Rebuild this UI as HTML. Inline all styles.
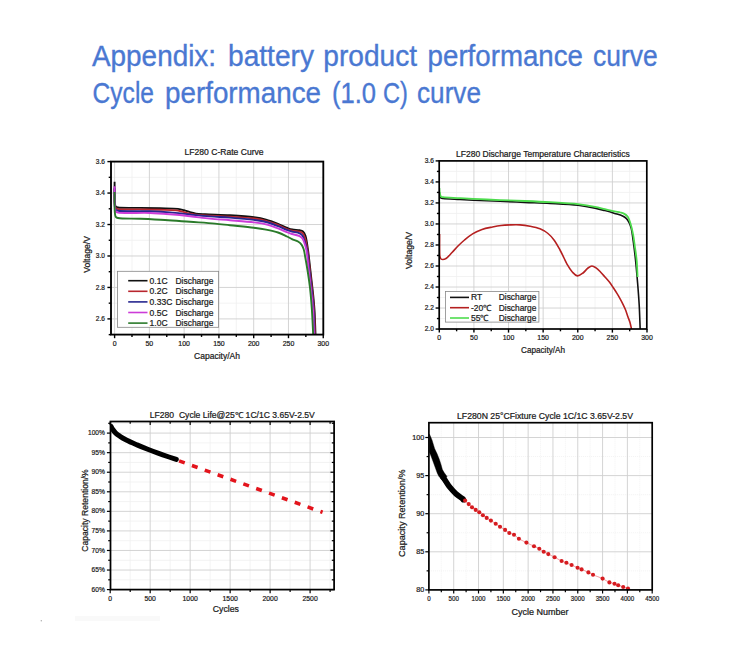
<!DOCTYPE html>
<html><head><meta charset="utf-8"><title>Battery performance curves</title>
<style>
html,body{margin:0;padding:0;background:#fff;}
body{width:750px;height:648px;position:relative;overflow:hidden;font-family:"Liberation Sans", sans-serif;}
</style></head><body>
<svg width="750" height="648" viewBox="0 0 750 648" style="position:absolute;left:0;top:0" font-family='"Liberation Sans", sans-serif'>
<text x="92" y="66.4" font-size="28.8" fill="#4a78d2" stroke="#4a78d2" stroke-width="0.35" textLength="124.04" lengthAdjust="spacingAndGlyphs">Appendix:</text>
<text x="228" y="66.4" font-size="28.8" fill="#4a78d2" stroke="#4a78d2" stroke-width="0.35" textLength="86" lengthAdjust="spacingAndGlyphs">battery</text>
<text x="323.3" y="66.4" font-size="28.8" fill="#4a78d2" stroke="#4a78d2" stroke-width="0.35" textLength="93.69" lengthAdjust="spacingAndGlyphs">product</text>
<text x="427.6" y="66.4" font-size="28.8" fill="#4a78d2" stroke="#4a78d2" stroke-width="0.35" textLength="155.39" lengthAdjust="spacingAndGlyphs">performance</text>
<text x="593" y="66.4" font-size="28.8" fill="#4a78d2" stroke="#4a78d2" stroke-width="0.35" textLength="64.57" lengthAdjust="spacingAndGlyphs">curve</text>
<text x="92.6" y="103.3" font-size="28.8" fill="#4a78d2" stroke="#4a78d2" stroke-width="0.35" textLength="61.41" lengthAdjust="spacingAndGlyphs">Cycle</text>
<text x="165" y="103.3" font-size="28.8" fill="#4a78d2" stroke="#4a78d2" stroke-width="0.35" textLength="155.99" lengthAdjust="spacingAndGlyphs">performance</text>
<text x="332" y="103.3" font-size="28.8" fill="#4a78d2" stroke="#4a78d2" stroke-width="0.35" textLength="44.04" lengthAdjust="spacingAndGlyphs">(1.0</text>
<text x="383.06" y="103.3" font-size="28.8" fill="#4a78d2" stroke="#4a78d2" stroke-width="0.35" textLength="24.92" lengthAdjust="spacingAndGlyphs">C)</text>
<text x="417" y="103.3" font-size="28.8" fill="#4a78d2" stroke="#4a78d2" stroke-width="0.35" textLength="63.97" lengthAdjust="spacingAndGlyphs">curve</text>
<line x1="131.99" y1="161.6" x2="131.99" y2="334.6" stroke="#f0f0f0" stroke-width="0.8"/>
<line x1="166.76" y1="161.6" x2="166.76" y2="334.6" stroke="#f0f0f0" stroke-width="0.8"/>
<line x1="201.54" y1="161.6" x2="201.54" y2="334.6" stroke="#f0f0f0" stroke-width="0.8"/>
<line x1="236.31" y1="161.6" x2="236.31" y2="334.6" stroke="#f0f0f0" stroke-width="0.8"/>
<line x1="271.09" y1="161.6" x2="271.09" y2="334.6" stroke="#f0f0f0" stroke-width="0.8"/>
<line x1="305.86" y1="161.6" x2="305.86" y2="334.6" stroke="#f0f0f0" stroke-width="0.8"/>
<line x1="111" y1="303.17" x2="323.3" y2="303.17" stroke="#f0f0f0" stroke-width="0.8"/>
<line x1="111" y1="271.71" x2="323.3" y2="271.71" stroke="#f0f0f0" stroke-width="0.8"/>
<line x1="111" y1="240.25" x2="323.3" y2="240.25" stroke="#f0f0f0" stroke-width="0.8"/>
<line x1="111" y1="208.79" x2="323.3" y2="208.79" stroke="#f0f0f0" stroke-width="0.8"/>
<line x1="111" y1="177.33" x2="323.3" y2="177.33" stroke="#f0f0f0" stroke-width="0.8"/>
<line x1="114.6" y1="161.6" x2="114.6" y2="334.6" stroke="#cfcfcf" stroke-width="0.9"/>
<line x1="149.38" y1="161.6" x2="149.38" y2="334.6" stroke="#cfcfcf" stroke-width="0.9"/>
<line x1="184.15" y1="161.6" x2="184.15" y2="334.6" stroke="#cfcfcf" stroke-width="0.9"/>
<line x1="218.93" y1="161.6" x2="218.93" y2="334.6" stroke="#cfcfcf" stroke-width="0.9"/>
<line x1="253.7" y1="161.6" x2="253.7" y2="334.6" stroke="#cfcfcf" stroke-width="0.9"/>
<line x1="288.48" y1="161.6" x2="288.48" y2="334.6" stroke="#cfcfcf" stroke-width="0.9"/>
<line x1="111" y1="318.9" x2="323.3" y2="318.9" stroke="#cfcfcf" stroke-width="0.9"/>
<line x1="111" y1="287.44" x2="323.3" y2="287.44" stroke="#cfcfcf" stroke-width="0.9"/>
<line x1="111" y1="255.98" x2="323.3" y2="255.98" stroke="#cfcfcf" stroke-width="0.9"/>
<line x1="111" y1="224.52" x2="323.3" y2="224.52" stroke="#cfcfcf" stroke-width="0.9"/>
<line x1="111" y1="193.06" x2="323.3" y2="193.06" stroke="#cfcfcf" stroke-width="0.9"/>
<rect x="117.4" y="271.3" width="101.2" height="56" fill="#fff" stroke="#888" stroke-width="0.8"/>
<line x1="128.2" y1="280.7" x2="147.5" y2="280.7" stroke="#111" stroke-width="1.6"/>
<text x="149.6" y="283.7" font-size="8.5" text-anchor="start" fill="#1a1a1a" stroke="#1a1a1a" stroke-width="0.22">0.1C</text>
<text x="175.5" y="283.7" font-size="8.5" text-anchor="start" fill="#1a1a1a" stroke="#1a1a1a" stroke-width="0.22" textLength="38" lengthAdjust="spacingAndGlyphs">Discharge</text>
<line x1="128.2" y1="291.3" x2="147.5" y2="291.3" stroke="#b8262e" stroke-width="1.6"/>
<text x="149.6" y="294.3" font-size="8.5" text-anchor="start" fill="#1a1a1a" stroke="#1a1a1a" stroke-width="0.22">0.2C</text>
<text x="175.5" y="294.3" font-size="8.5" text-anchor="start" fill="#1a1a1a" stroke="#1a1a1a" stroke-width="0.22" textLength="38" lengthAdjust="spacingAndGlyphs">Discharge</text>
<line x1="128.2" y1="301.9" x2="147.5" y2="301.9" stroke="#26268f" stroke-width="1.6"/>
<text x="149.6" y="304.9" font-size="8.5" text-anchor="start" fill="#1a1a1a" stroke="#1a1a1a" stroke-width="0.22">0.33C</text>
<text x="175.5" y="304.9" font-size="8.5" text-anchor="start" fill="#1a1a1a" stroke="#1a1a1a" stroke-width="0.22" textLength="38" lengthAdjust="spacingAndGlyphs">Discharge</text>
<line x1="128.2" y1="312.5" x2="147.5" y2="312.5" stroke="#cc3cd8" stroke-width="1.6"/>
<text x="149.6" y="315.5" font-size="8.5" text-anchor="start" fill="#1a1a1a" stroke="#1a1a1a" stroke-width="0.22">0.5C</text>
<text x="175.5" y="315.5" font-size="8.5" text-anchor="start" fill="#1a1a1a" stroke="#1a1a1a" stroke-width="0.22" textLength="38" lengthAdjust="spacingAndGlyphs">Discharge</text>
<line x1="128.2" y1="323.1" x2="147.5" y2="323.1" stroke="#2a7a2a" stroke-width="1.6"/>
<text x="149.6" y="326.1" font-size="8.5" text-anchor="start" fill="#1a1a1a" stroke="#1a1a1a" stroke-width="0.22">1.0C</text>
<text x="175.5" y="326.1" font-size="8.5" text-anchor="start" fill="#1a1a1a" stroke="#1a1a1a" stroke-width="0.22" textLength="38" lengthAdjust="spacingAndGlyphs">Discharge</text>
<g fill="none" stroke-width="1.9" stroke-linejoin="round">
<clipPath id="cp1"><rect x="111" y="161.6" width="212.3" height="173"/></clipPath>
<g clip-path="url(#cp1)">
<path d="M114.6,181.8 C114.6,186.53 114.52,192.02 114.6,196 C114.66,198.9 114.58,201.56 114.9,203.5 C115.11,204.77 115.2,205.93 115.8,206.6 C116.31,207.17 116.85,207.26 118,207.5 C121.49,208.22 132.84,207.76 140,207.9 C146.83,208.03 153.51,208.13 160,208.3 C166.16,208.46 173.63,208.36 178,208.9 C180.55,209.22 182.01,209.66 184,210.2 C186.02,210.75 187.99,211.63 190,212.2 C191.99,212.76 193.78,213.26 196,213.6 C198.68,214.01 201.25,214.08 205,214.3 C211.25,214.67 221.76,214.79 230,215.3 C238.09,215.8 247.39,216.39 254,217.3 C258.71,217.95 262.04,218.53 266,219.6 C270.04,220.69 274.25,222.33 278,223.8 C281.41,225.14 284.93,227 287.6,228 C289.45,228.69 290.62,229.13 292.4,229.5 C294.54,229.95 297.67,229.86 299.6,230.3 C300.96,230.61 302.07,230.74 303,231.5 C304.06,232.37 304.71,233.67 305.4,235.5 C306.62,238.76 307.27,245.11 308,250 C308.74,254.95 309.22,260 309.8,265 C310.38,270 310.93,275 311.5,280 C312.07,285 312.7,290 313.2,295 C313.7,300 314.14,304.41 314.5,310 C314.95,317.06 315.17,326 315.5,334" stroke="#111"/>
<path d="M114.6,189 C114.6,192.33 114.53,196.09 114.6,199 C114.66,201.25 114.63,203.32 114.9,205 C115.1,206.25 115.19,207.52 115.8,208.2 C116.31,208.78 116.85,208.87 118,209.1 C121.49,209.81 132.84,209.28 140,209.4 C146.83,209.51 153.71,209.62 160,209.8 C165.63,209.96 171.96,209.92 176,210.4 C178.5,210.69 179.86,211.11 182,211.6 C184.48,212.17 187.32,213.13 190,213.7 C192.65,214.26 195.05,214.69 198,215 C201.59,215.38 205.49,215.37 210,215.6 C215.82,215.89 223.03,216.15 230,216.6 C237.64,217.09 247.39,217.61 254,218.5 C258.71,219.14 262.04,219.73 266,220.8 C270.04,221.89 274.26,223.49 278,225 C281.41,226.38 284.92,228.4 287.6,229.4 C289.45,230.09 290.62,230.44 292.4,230.8 C294.54,231.23 297.76,231.03 299.6,231.6 C300.86,231.99 301.76,232.34 302.6,233.2 C303.65,234.28 304.3,235.98 305,238 C306.06,241.05 306.81,245.76 307.5,250 C308.27,254.71 308.72,260 309.3,265 C309.88,270 310.43,275 311,280 C311.57,285 312.2,290 312.7,295 C313.2,300 313.64,304.41 314,310 C314.45,317.06 314.67,326 315,334" stroke="#b8262e"/>
<path d="M114.6,188 C114.6,192 114.52,196.61 114.6,200 C114.66,202.5 114.62,204.71 114.9,206.5 C115.1,207.8 115.18,209.1 115.8,209.8 C116.31,210.38 116.8,210.45 118,210.7 C122.4,211.61 140.58,210.95 150,211.3 C157.45,211.57 163.34,211.87 170,212.4 C176.67,212.93 183.33,213.83 190,214.5 C196.67,215.17 203.33,215.88 210,216.4 C216.66,216.92 223.03,217.06 230,217.6 C237.64,218.2 247.39,219.01 254,219.9 C258.7,220.54 262.04,220.97 266,222 C270.04,223.05 274.24,224.76 278,226.2 C281.4,227.5 285,229.25 287.6,230.2 C289.33,230.84 290.32,231.15 292,231.6 C294.18,232.19 297.75,232.42 299.6,233.3 C300.85,233.89 301.63,234.47 302.4,235.5 C303.4,236.83 303.91,238.92 304.6,241 C305.47,243.61 306.34,246.59 307,250 C307.83,254.34 308.22,260 308.8,265 C309.38,270 309.93,275 310.5,280 C311.07,285 311.7,290 312.2,295 C312.7,300 313.14,304.41 313.5,310 C313.95,317.06 314.17,326 314.5,334" stroke="#26268f"/>
<path d="M114.6,186.3 C114.6,191.2 114.51,197.03 114.6,201 C114.66,203.7 114.63,205.87 114.9,207.8 C115.1,209.26 115.15,210.81 115.8,211.6 C116.31,212.23 116.79,212.33 118,212.6 C122.39,213.58 140.59,212.64 150,213 C157.45,213.29 163.34,213.77 170,214.3 C176.67,214.83 183.34,215.48 190,216.2 C196.67,216.92 203.33,217.93 210,218.6 C216.66,219.27 223.03,219.6 230,220.2 C237.64,220.86 247.38,221.57 254,222.4 C258.7,222.99 262.04,223.32 266,224.3 C270.04,225.3 274.24,226.98 278,228.4 C281.4,229.69 285.01,231.39 287.6,232.4 C289.34,233.08 290.32,233.45 292,234 C294.18,234.71 297.75,235.25 299.6,236.2 C300.84,236.84 301.64,237.41 302.4,238.4 C303.31,239.57 303.78,241.28 304.4,243 C305.14,245.07 305.84,247.2 306.4,250 C307.21,254.03 307.62,260 308.2,265 C308.78,270 309.33,275 309.9,280 C310.47,285 311.08,290 311.6,295 C312.12,300 312.62,304.41 313,310 C313.48,317.06 313.67,326 314,334" stroke="#cc3cd8"/>
<path d="M114.6,192 C114.6,196.67 114.52,202.13 114.6,206 C114.66,208.73 114.63,211.03 114.9,213 C115.1,214.47 115.16,215.96 115.8,216.8 C116.31,217.47 116.83,217.68 118,218 C121.48,218.95 132.43,218.48 140,218.8 C148.07,219.14 156.67,219.5 165,220 C173.34,220.5 181.67,221.2 190,221.8 C198.33,222.4 207.73,222.95 215,223.6 C220.64,224.1 224.41,224.61 230,225.2 C237.06,225.94 247.38,226.83 254,227.7 C258.7,228.32 262.02,228.8 266,229.6 C270.02,230.4 274.34,231.26 278,232.5 C281.27,233.61 284.45,235.27 287,236.5 C288.93,237.43 290.24,238.29 292,239.1 C293.89,239.97 296.34,240.48 298,241.5 C299.41,242.37 300.57,243.37 301.5,244.6 C302.45,245.86 303.01,247.23 303.6,249 C304.41,251.43 304.78,254.67 305.4,258 C306.17,262.15 307.05,267.17 307.8,272 C308.6,277.15 309.36,282.23 310,288 C310.75,294.74 311.38,302.43 311.9,310 C312.46,318.06 312.77,326.67 313.2,335" stroke="#2a7a2a"/>
</g></g>
<rect x="111" y="161.6" width="212.3" height="173" fill="none" stroke="#000" stroke-width="1.85"/>
<line x1="114.6" y1="334.6" x2="114.6" y2="338.2" stroke="#000" stroke-width="1.4"/>
<line x1="131.99" y1="334.6" x2="131.99" y2="336.9" stroke="#000" stroke-width="1.4"/>
<line x1="149.38" y1="334.6" x2="149.38" y2="338.2" stroke="#000" stroke-width="1.4"/>
<line x1="166.76" y1="334.6" x2="166.76" y2="336.9" stroke="#000" stroke-width="1.4"/>
<line x1="184.15" y1="334.6" x2="184.15" y2="338.2" stroke="#000" stroke-width="1.4"/>
<line x1="201.54" y1="334.6" x2="201.54" y2="336.9" stroke="#000" stroke-width="1.4"/>
<line x1="218.93" y1="334.6" x2="218.93" y2="338.2" stroke="#000" stroke-width="1.4"/>
<line x1="236.31" y1="334.6" x2="236.31" y2="336.9" stroke="#000" stroke-width="1.4"/>
<line x1="253.7" y1="334.6" x2="253.7" y2="338.2" stroke="#000" stroke-width="1.4"/>
<line x1="271.09" y1="334.6" x2="271.09" y2="336.9" stroke="#000" stroke-width="1.4"/>
<line x1="288.48" y1="334.6" x2="288.48" y2="338.2" stroke="#000" stroke-width="1.4"/>
<line x1="305.86" y1="334.6" x2="305.86" y2="336.9" stroke="#000" stroke-width="1.4"/>
<line x1="323.25" y1="334.6" x2="323.25" y2="338.2" stroke="#000" stroke-width="1.4"/>
<line x1="108.7" y1="334.63" x2="111" y2="334.63" stroke="#000" stroke-width="1.4"/>
<line x1="107.4" y1="318.9" x2="111" y2="318.9" stroke="#000" stroke-width="1.4"/>
<line x1="108.7" y1="303.17" x2="111" y2="303.17" stroke="#000" stroke-width="1.4"/>
<line x1="107.4" y1="287.44" x2="111" y2="287.44" stroke="#000" stroke-width="1.4"/>
<line x1="108.7" y1="271.71" x2="111" y2="271.71" stroke="#000" stroke-width="1.4"/>
<line x1="107.4" y1="255.98" x2="111" y2="255.98" stroke="#000" stroke-width="1.4"/>
<line x1="108.7" y1="240.25" x2="111" y2="240.25" stroke="#000" stroke-width="1.4"/>
<line x1="107.4" y1="224.52" x2="111" y2="224.52" stroke="#000" stroke-width="1.4"/>
<line x1="108.7" y1="208.79" x2="111" y2="208.79" stroke="#000" stroke-width="1.4"/>
<line x1="107.4" y1="193.06" x2="111" y2="193.06" stroke="#000" stroke-width="1.4"/>
<line x1="108.7" y1="177.33" x2="111" y2="177.33" stroke="#000" stroke-width="1.4"/>
<line x1="107.4" y1="161.6" x2="111" y2="161.6" stroke="#000" stroke-width="1.4"/>
<text x="114.6" y="345.6" font-size="7.3" text-anchor="middle" fill="#1a1a1a" stroke="#1a1a1a" stroke-width="0.22" textLength="3.87" lengthAdjust="spacingAndGlyphs">0</text>
<text x="149.38" y="345.6" font-size="7.3" text-anchor="middle" fill="#1a1a1a" stroke="#1a1a1a" stroke-width="0.22" textLength="7.74" lengthAdjust="spacingAndGlyphs">50</text>
<text x="184.15" y="345.6" font-size="7.3" text-anchor="middle" fill="#1a1a1a" stroke="#1a1a1a" stroke-width="0.22" textLength="11.61" lengthAdjust="spacingAndGlyphs">100</text>
<text x="218.93" y="345.6" font-size="7.3" text-anchor="middle" fill="#1a1a1a" stroke="#1a1a1a" stroke-width="0.22" textLength="11.61" lengthAdjust="spacingAndGlyphs">150</text>
<text x="253.7" y="345.6" font-size="7.3" text-anchor="middle" fill="#1a1a1a" stroke="#1a1a1a" stroke-width="0.22" textLength="11.61" lengthAdjust="spacingAndGlyphs">200</text>
<text x="288.48" y="345.6" font-size="7.3" text-anchor="middle" fill="#1a1a1a" stroke="#1a1a1a" stroke-width="0.22" textLength="11.61" lengthAdjust="spacingAndGlyphs">250</text>
<text x="323.25" y="345.6" font-size="7.3" text-anchor="middle" fill="#1a1a1a" stroke="#1a1a1a" stroke-width="0.22" textLength="11.61" lengthAdjust="spacingAndGlyphs">300</text>
<text x="104.9" y="321" font-size="7.3" text-anchor="end" fill="#1a1a1a" stroke="#1a1a1a" stroke-width="0.22" textLength="9.1" lengthAdjust="spacingAndGlyphs">2.6</text>
<text x="104.9" y="289.54" font-size="7.3" text-anchor="end" fill="#1a1a1a" stroke="#1a1a1a" stroke-width="0.22" textLength="9.1" lengthAdjust="spacingAndGlyphs">2.8</text>
<text x="104.9" y="258.08" font-size="7.3" text-anchor="end" fill="#1a1a1a" stroke="#1a1a1a" stroke-width="0.22" textLength="9.1" lengthAdjust="spacingAndGlyphs">3.0</text>
<text x="104.9" y="226.62" font-size="7.3" text-anchor="end" fill="#1a1a1a" stroke="#1a1a1a" stroke-width="0.22" textLength="9.1" lengthAdjust="spacingAndGlyphs">3.2</text>
<text x="104.9" y="195.16" font-size="7.3" text-anchor="end" fill="#1a1a1a" stroke="#1a1a1a" stroke-width="0.22" textLength="9.1" lengthAdjust="spacingAndGlyphs">3.4</text>
<text x="104.9" y="163.7" font-size="7.3" text-anchor="end" fill="#1a1a1a" stroke="#1a1a1a" stroke-width="0.22" textLength="9.1" lengthAdjust="spacingAndGlyphs">3.6</text>
<text x="217" y="358.9" font-size="8.5" text-anchor="middle" fill="#1a1a1a" stroke="#1a1a1a" stroke-width="0.22" textLength="46" lengthAdjust="spacingAndGlyphs">Capacity/Ah</text>
<text x="0" y="0" font-size="8.5" text-anchor="middle" fill="#1a1a1a" stroke="#1a1a1a" stroke-width="0.22" textLength="36.7" lengthAdjust="spacingAndGlyphs" transform="translate(90.4,254.5) rotate(-90)">Voltage/V</text>
<text x="224.1" y="155.3" font-size="8.2" text-anchor="middle" fill="#1a1a1a" stroke="#1a1a1a" stroke-width="0.22" textLength="79" lengthAdjust="spacingAndGlyphs">LF280 C-Rate Curve</text>
<line x1="456.61" y1="160.9" x2="456.61" y2="329" stroke="#f0f0f0" stroke-width="0.8"/>
<line x1="491.22" y1="160.9" x2="491.22" y2="329" stroke="#f0f0f0" stroke-width="0.8"/>
<line x1="525.84" y1="160.9" x2="525.84" y2="329" stroke="#f0f0f0" stroke-width="0.8"/>
<line x1="560.45" y1="160.9" x2="560.45" y2="329" stroke="#f0f0f0" stroke-width="0.8"/>
<line x1="595.07" y1="160.9" x2="595.07" y2="329" stroke="#f0f0f0" stroke-width="0.8"/>
<line x1="629.68" y1="160.9" x2="629.68" y2="329" stroke="#f0f0f0" stroke-width="0.8"/>
<line x1="439.2" y1="318.55" x2="646.8" y2="318.55" stroke="#f0f0f0" stroke-width="0.8"/>
<line x1="439.2" y1="297.53" x2="646.8" y2="297.53" stroke="#f0f0f0" stroke-width="0.8"/>
<line x1="439.2" y1="276.51" x2="646.8" y2="276.51" stroke="#f0f0f0" stroke-width="0.8"/>
<line x1="439.2" y1="255.49" x2="646.8" y2="255.49" stroke="#f0f0f0" stroke-width="0.8"/>
<line x1="439.2" y1="234.47" x2="646.8" y2="234.47" stroke="#f0f0f0" stroke-width="0.8"/>
<line x1="439.2" y1="213.45" x2="646.8" y2="213.45" stroke="#f0f0f0" stroke-width="0.8"/>
<line x1="439.2" y1="192.43" x2="646.8" y2="192.43" stroke="#f0f0f0" stroke-width="0.8"/>
<line x1="439.2" y1="171.41" x2="646.8" y2="171.41" stroke="#f0f0f0" stroke-width="0.8"/>
<line x1="473.92" y1="160.9" x2="473.92" y2="329" stroke="#cfcfcf" stroke-width="0.9"/>
<line x1="508.53" y1="160.9" x2="508.53" y2="329" stroke="#cfcfcf" stroke-width="0.9"/>
<line x1="543.14" y1="160.9" x2="543.14" y2="329" stroke="#cfcfcf" stroke-width="0.9"/>
<line x1="577.76" y1="160.9" x2="577.76" y2="329" stroke="#cfcfcf" stroke-width="0.9"/>
<line x1="612.38" y1="160.9" x2="612.38" y2="329" stroke="#cfcfcf" stroke-width="0.9"/>
<line x1="439.2" y1="308.04" x2="646.8" y2="308.04" stroke="#cfcfcf" stroke-width="0.9"/>
<line x1="439.2" y1="287.02" x2="646.8" y2="287.02" stroke="#cfcfcf" stroke-width="0.9"/>
<line x1="439.2" y1="266" x2="646.8" y2="266" stroke="#cfcfcf" stroke-width="0.9"/>
<line x1="439.2" y1="244.98" x2="646.8" y2="244.98" stroke="#cfcfcf" stroke-width="0.9"/>
<line x1="439.2" y1="223.96" x2="646.8" y2="223.96" stroke="#cfcfcf" stroke-width="0.9"/>
<line x1="439.2" y1="202.94" x2="646.8" y2="202.94" stroke="#cfcfcf" stroke-width="0.9"/>
<line x1="439.2" y1="181.92" x2="646.8" y2="181.92" stroke="#cfcfcf" stroke-width="0.9"/>
<rect x="445.5" y="291.4" width="93.4" height="30.7" fill="#fff" stroke="#888" stroke-width="0.8"/>
<line x1="450" y1="297.4" x2="469" y2="297.4" stroke="#111" stroke-width="1.6"/>
<text x="471" y="300.4" font-size="8.5" text-anchor="start" fill="#1a1a1a" stroke="#1a1a1a" stroke-width="0.22">RT</text>
<text x="498.8" y="300.4" font-size="8.5" text-anchor="start" fill="#1a1a1a" stroke="#1a1a1a" stroke-width="0.22" textLength="37.6" lengthAdjust="spacingAndGlyphs">Discharge</text>
<line x1="450" y1="307.7" x2="469" y2="307.7" stroke="#b52020" stroke-width="1.6"/>
<text x="471" y="310.7" font-size="8.5" text-anchor="start" fill="#1a1a1a" stroke="#1a1a1a" stroke-width="0.22">-20℃</text>
<text x="498.8" y="310.7" font-size="8.5" text-anchor="start" fill="#1a1a1a" stroke="#1a1a1a" stroke-width="0.22" textLength="37.6" lengthAdjust="spacingAndGlyphs">Discharge</text>
<line x1="450" y1="318" x2="469" y2="318" stroke="#4ddc4d" stroke-width="1.6"/>
<text x="471" y="321" font-size="8.5" text-anchor="start" fill="#1a1a1a" stroke="#1a1a1a" stroke-width="0.22">55℃</text>
<text x="498.8" y="321" font-size="8.5" text-anchor="start" fill="#1a1a1a" stroke="#1a1a1a" stroke-width="0.22" textLength="37.6" lengthAdjust="spacingAndGlyphs">Discharge</text>
<clipPath id="cp2"><rect x="439.2" y="160.9" width="207.6" height="168.1"/></clipPath>
<g clip-path="url(#cp2)" fill="none" stroke-width="1.6" stroke-linejoin="round">
<path d="M439.6,234 C439.6,239.33 439.5,245.85 439.6,250 C439.66,252.65 439.52,254.87 439.9,256.5 C440.15,257.56 440.44,258.51 441,259 C441.47,259.4 442.12,259.51 442.8,259.5 C443.72,259.49 444.86,259.19 446,258.5 C447.81,257.4 450.02,254.56 452,252.5 C454.02,250.4 455.92,248.08 458,246 C460.08,243.92 462.16,241.95 464.5,240 C467,237.91 469.7,235.64 472.6,233.9 C475.53,232.14 478.72,230.65 482,229.5 C485.35,228.33 489.18,227.69 492.5,227 C495.47,226.38 498.08,225.85 501,225.5 C504.07,225.13 507.33,225 510.5,224.9 C513.67,224.8 516.8,224.69 520,224.9 C523.3,225.11 526.69,225.56 530,226.2 C533.35,226.85 536.93,227.53 540,228.8 C542.91,230 545.65,231.6 548,233.5 C550.3,235.35 552.12,237.49 554,240 C556.16,242.88 558.25,246.82 560,250 C561.53,252.78 562.72,255.44 564,258 C565.18,260.36 566.08,262.55 567.4,264.8 C568.82,267.21 570.49,270.07 572.3,272 C573.84,273.64 575.52,275.73 577.3,275.9 C579.09,276.07 581.25,274.27 583,273 C584.84,271.67 586.34,269.21 588,268 C589.31,267.05 590.57,266.04 591.9,266 C593.24,265.96 594.66,266.92 596,267.8 C597.61,268.86 599.2,270.67 600.7,272.2 C602.2,273.73 603.57,275.37 605,277 C606.47,278.67 608.05,280.35 609.4,282.1 C610.71,283.79 611.8,285.5 613,287.3 C614.27,289.19 615.6,291.27 616.8,293.2 C617.93,295.03 618.97,296.76 620,298.6 C621.04,300.46 622.06,302.39 623,304.3 C623.93,306.19 624.8,308 625.6,310 C626.45,312.12 627.14,314.55 627.9,316.7 C628.61,318.71 629.4,320.46 630,322.5 C630.65,324.7 631.07,327.17 631.6,329.5" stroke="#b52020"/>
<path d="M439.4,192 C439.53,193.33 439.44,194.93 439.8,196 C440.07,196.82 440.44,197.59 441,198 C441.53,198.39 442,198.35 443,198.5 C445.88,198.94 454.1,199.18 460,199.5 C466.4,199.85 473.33,200.2 480,200.5 C486.67,200.8 492.96,201 500,201.3 C507.87,201.63 516.67,202.05 525,202.4 C533.33,202.75 541.43,202.95 550,203.4 C559.07,203.87 569.85,204.25 578,205.2 C584.39,205.95 590.1,207.07 595,208.1 C598.79,208.9 601.7,209.71 605,210.6 C608.27,211.48 611.64,212.46 614.7,213.4 C617.48,214.26 620.48,214.97 622.6,216 C624.19,216.77 625.42,217.51 626.5,218.6 C627.59,219.7 628.35,221.14 629.1,222.6 C629.91,224.18 630.52,225.64 631.1,227.8 C632,231.14 632.52,236.08 633.2,240.9 C634.03,246.79 634.88,253.82 635.6,260.6 C636.36,267.82 637,275.56 637.6,283 C638.2,290.36 638.77,297.43 639.2,305 C639.65,313.06 639.87,321.67 640.2,330" stroke="#111"/>
<path d="M439.4,188 C439.53,189.67 439.49,191.49 439.8,193 C440.07,194.32 440.31,195.93 441,196.6 C441.51,197.09 441.99,197.02 443,197.2 C445.88,197.7 454.1,197.78 460,198.1 C466.4,198.45 473.33,198.87 480,199.2 C486.67,199.53 492.96,199.81 500,200.1 C507.87,200.42 516.67,200.65 525,201 C533.33,201.35 541.43,201.69 550,202.2 C559.07,202.74 569.84,203.29 578,204.2 C584.39,204.92 590.1,205.84 595,206.8 C598.79,207.54 601.69,208.43 605,209.2 C608.26,209.96 611.88,210.81 614.7,211.4 C616.88,211.85 618.83,212.07 620.5,212.5 C621.8,212.83 622.78,213 623.9,213.6 C625.22,214.31 626.76,215.3 627.8,216.7 C629.03,218.36 629.61,220.71 630.4,223.2 C631.42,226.4 632.35,230.5 633.1,234.4 C633.9,238.58 634.4,243.13 635,247.5 C635.6,251.86 636.27,255.98 636.7,260.6 C637.17,265.75 637.3,271.53 637.6,277" stroke="#4ddc4d" stroke-width="1.8"/>
</g>
<rect x="439.2" y="160.9" width="207.6" height="168.1" fill="none" stroke="#000" stroke-width="1.7"/>
<line x1="439.3" y1="329" x2="439.3" y2="332.6" stroke="#000" stroke-width="1.4"/>
<line x1="456.61" y1="329" x2="456.61" y2="331.3" stroke="#000" stroke-width="1.4"/>
<line x1="473.92" y1="329" x2="473.92" y2="332.6" stroke="#000" stroke-width="1.4"/>
<line x1="491.22" y1="329" x2="491.22" y2="331.3" stroke="#000" stroke-width="1.4"/>
<line x1="508.53" y1="329" x2="508.53" y2="332.6" stroke="#000" stroke-width="1.4"/>
<line x1="525.84" y1="329" x2="525.84" y2="331.3" stroke="#000" stroke-width="1.4"/>
<line x1="543.14" y1="329" x2="543.14" y2="332.6" stroke="#000" stroke-width="1.4"/>
<line x1="560.45" y1="329" x2="560.45" y2="331.3" stroke="#000" stroke-width="1.4"/>
<line x1="577.76" y1="329" x2="577.76" y2="332.6" stroke="#000" stroke-width="1.4"/>
<line x1="595.07" y1="329" x2="595.07" y2="331.3" stroke="#000" stroke-width="1.4"/>
<line x1="612.38" y1="329" x2="612.38" y2="332.6" stroke="#000" stroke-width="1.4"/>
<line x1="629.68" y1="329" x2="629.68" y2="331.3" stroke="#000" stroke-width="1.4"/>
<line x1="646.99" y1="329" x2="646.99" y2="332.6" stroke="#000" stroke-width="1.4"/>
<line x1="435.6" y1="329.06" x2="439.2" y2="329.06" stroke="#000" stroke-width="1.4"/>
<line x1="436.9" y1="318.55" x2="439.2" y2="318.55" stroke="#000" stroke-width="1.4"/>
<line x1="435.6" y1="308.04" x2="439.2" y2="308.04" stroke="#000" stroke-width="1.4"/>
<line x1="436.9" y1="297.53" x2="439.2" y2="297.53" stroke="#000" stroke-width="1.4"/>
<line x1="435.6" y1="287.02" x2="439.2" y2="287.02" stroke="#000" stroke-width="1.4"/>
<line x1="436.9" y1="276.51" x2="439.2" y2="276.51" stroke="#000" stroke-width="1.4"/>
<line x1="435.6" y1="266" x2="439.2" y2="266" stroke="#000" stroke-width="1.4"/>
<line x1="436.9" y1="255.49" x2="439.2" y2="255.49" stroke="#000" stroke-width="1.4"/>
<line x1="435.6" y1="244.98" x2="439.2" y2="244.98" stroke="#000" stroke-width="1.4"/>
<line x1="436.9" y1="234.47" x2="439.2" y2="234.47" stroke="#000" stroke-width="1.4"/>
<line x1="435.6" y1="223.96" x2="439.2" y2="223.96" stroke="#000" stroke-width="1.4"/>
<line x1="436.9" y1="213.45" x2="439.2" y2="213.45" stroke="#000" stroke-width="1.4"/>
<line x1="435.6" y1="202.94" x2="439.2" y2="202.94" stroke="#000" stroke-width="1.4"/>
<line x1="436.9" y1="192.43" x2="439.2" y2="192.43" stroke="#000" stroke-width="1.4"/>
<line x1="435.6" y1="181.92" x2="439.2" y2="181.92" stroke="#000" stroke-width="1.4"/>
<line x1="436.9" y1="171.41" x2="439.2" y2="171.41" stroke="#000" stroke-width="1.4"/>
<line x1="435.6" y1="160.9" x2="439.2" y2="160.9" stroke="#000" stroke-width="1.4"/>
<text x="439.3" y="340.1" font-size="7.3" text-anchor="middle" fill="#1a1a1a" stroke="#1a1a1a" stroke-width="0.22" textLength="3.87" lengthAdjust="spacingAndGlyphs">0</text>
<text x="473.92" y="340.1" font-size="7.3" text-anchor="middle" fill="#1a1a1a" stroke="#1a1a1a" stroke-width="0.22" textLength="7.74" lengthAdjust="spacingAndGlyphs">50</text>
<text x="508.53" y="340.1" font-size="7.3" text-anchor="middle" fill="#1a1a1a" stroke="#1a1a1a" stroke-width="0.22" textLength="11.61" lengthAdjust="spacingAndGlyphs">100</text>
<text x="543.14" y="340.1" font-size="7.3" text-anchor="middle" fill="#1a1a1a" stroke="#1a1a1a" stroke-width="0.22" textLength="11.61" lengthAdjust="spacingAndGlyphs">150</text>
<text x="577.76" y="340.1" font-size="7.3" text-anchor="middle" fill="#1a1a1a" stroke="#1a1a1a" stroke-width="0.22" textLength="11.61" lengthAdjust="spacingAndGlyphs">200</text>
<text x="612.38" y="340.1" font-size="7.3" text-anchor="middle" fill="#1a1a1a" stroke="#1a1a1a" stroke-width="0.22" textLength="11.61" lengthAdjust="spacingAndGlyphs">250</text>
<text x="646.99" y="340.1" font-size="7.3" text-anchor="middle" fill="#1a1a1a" stroke="#1a1a1a" stroke-width="0.22" textLength="11.61" lengthAdjust="spacingAndGlyphs">300</text>
<text x="433.8" y="331.36" font-size="7.3" text-anchor="end" fill="#1a1a1a" stroke="#1a1a1a" stroke-width="0.22" textLength="9.1" lengthAdjust="spacingAndGlyphs">2.0</text>
<text x="433.8" y="310.34" font-size="7.3" text-anchor="end" fill="#1a1a1a" stroke="#1a1a1a" stroke-width="0.22" textLength="9.1" lengthAdjust="spacingAndGlyphs">2.2</text>
<text x="433.8" y="289.32" font-size="7.3" text-anchor="end" fill="#1a1a1a" stroke="#1a1a1a" stroke-width="0.22" textLength="9.1" lengthAdjust="spacingAndGlyphs">2.4</text>
<text x="433.8" y="268.3" font-size="7.3" text-anchor="end" fill="#1a1a1a" stroke="#1a1a1a" stroke-width="0.22" textLength="9.1" lengthAdjust="spacingAndGlyphs">2.6</text>
<text x="433.8" y="247.28" font-size="7.3" text-anchor="end" fill="#1a1a1a" stroke="#1a1a1a" stroke-width="0.22" textLength="9.1" lengthAdjust="spacingAndGlyphs">2.8</text>
<text x="433.8" y="226.26" font-size="7.3" text-anchor="end" fill="#1a1a1a" stroke="#1a1a1a" stroke-width="0.22" textLength="9.1" lengthAdjust="spacingAndGlyphs">3.0</text>
<text x="433.8" y="205.24" font-size="7.3" text-anchor="end" fill="#1a1a1a" stroke="#1a1a1a" stroke-width="0.22" textLength="9.1" lengthAdjust="spacingAndGlyphs">3.2</text>
<text x="433.8" y="184.22" font-size="7.3" text-anchor="end" fill="#1a1a1a" stroke="#1a1a1a" stroke-width="0.22" textLength="9.1" lengthAdjust="spacingAndGlyphs">3.4</text>
<text x="433.8" y="163.2" font-size="7.3" text-anchor="end" fill="#1a1a1a" stroke="#1a1a1a" stroke-width="0.22" textLength="9.1" lengthAdjust="spacingAndGlyphs">3.6</text>
<text x="543" y="352.8" font-size="8.2" text-anchor="middle" fill="#1a1a1a" stroke="#1a1a1a" stroke-width="0.22" textLength="44" lengthAdjust="spacingAndGlyphs">Capacity/Ah</text>
<text x="0" y="0" font-size="8.3" text-anchor="middle" fill="#1a1a1a" stroke="#1a1a1a" stroke-width="0.22" textLength="37" lengthAdjust="spacingAndGlyphs" transform="translate(411.7,250.5) rotate(-90)">Voltage/V</text>
<text x="542.9" y="157.1" font-size="8.2" text-anchor="middle" fill="#1a1a1a" stroke="#1a1a1a" stroke-width="0.22" textLength="173.8" lengthAdjust="spacingAndGlyphs">LF280 Discharge Temperature Characteristics</text>
<line x1="130.19" y1="421.5" x2="130.19" y2="589.6" stroke="#f0f0f0" stroke-width="0.8"/>
<line x1="170.17" y1="421.5" x2="170.17" y2="589.6" stroke="#f0f0f0" stroke-width="0.8"/>
<line x1="210.15" y1="421.5" x2="210.15" y2="589.6" stroke="#f0f0f0" stroke-width="0.8"/>
<line x1="250.13" y1="421.5" x2="250.13" y2="589.6" stroke="#f0f0f0" stroke-width="0.8"/>
<line x1="290.11" y1="421.5" x2="290.11" y2="589.6" stroke="#f0f0f0" stroke-width="0.8"/>
<line x1="330.09" y1="421.5" x2="330.09" y2="589.6" stroke="#f0f0f0" stroke-width="0.8"/>
<line x1="110.5" y1="579.82" x2="334.1" y2="579.82" stroke="#f0f0f0" stroke-width="0.8"/>
<line x1="110.5" y1="560.26" x2="334.1" y2="560.26" stroke="#f0f0f0" stroke-width="0.8"/>
<line x1="110.5" y1="540.69" x2="334.1" y2="540.69" stroke="#f0f0f0" stroke-width="0.8"/>
<line x1="110.5" y1="521.13" x2="334.1" y2="521.13" stroke="#f0f0f0" stroke-width="0.8"/>
<line x1="110.5" y1="501.57" x2="334.1" y2="501.57" stroke="#f0f0f0" stroke-width="0.8"/>
<line x1="110.5" y1="482.01" x2="334.1" y2="482.01" stroke="#f0f0f0" stroke-width="0.8"/>
<line x1="110.5" y1="462.44" x2="334.1" y2="462.44" stroke="#f0f0f0" stroke-width="0.8"/>
<line x1="110.5" y1="442.88" x2="334.1" y2="442.88" stroke="#f0f0f0" stroke-width="0.8"/>
<line x1="110.5" y1="423.32" x2="334.1" y2="423.32" stroke="#f0f0f0" stroke-width="0.8"/>
<line x1="150.18" y1="421.5" x2="150.18" y2="589.6" stroke="#cfcfcf" stroke-width="0.9"/>
<line x1="190.16" y1="421.5" x2="190.16" y2="589.6" stroke="#cfcfcf" stroke-width="0.9"/>
<line x1="230.14" y1="421.5" x2="230.14" y2="589.6" stroke="#cfcfcf" stroke-width="0.9"/>
<line x1="270.12" y1="421.5" x2="270.12" y2="589.6" stroke="#cfcfcf" stroke-width="0.9"/>
<line x1="310.1" y1="421.5" x2="310.1" y2="589.6" stroke="#cfcfcf" stroke-width="0.9"/>
<line x1="110.5" y1="570.04" x2="334.1" y2="570.04" stroke="#cfcfcf" stroke-width="0.9"/>
<line x1="110.5" y1="550.48" x2="334.1" y2="550.48" stroke="#cfcfcf" stroke-width="0.9"/>
<line x1="110.5" y1="530.91" x2="334.1" y2="530.91" stroke="#cfcfcf" stroke-width="0.9"/>
<line x1="110.5" y1="511.35" x2="334.1" y2="511.35" stroke="#cfcfcf" stroke-width="0.9"/>
<line x1="110.5" y1="491.79" x2="334.1" y2="491.79" stroke="#cfcfcf" stroke-width="0.9"/>
<line x1="110.5" y1="472.23" x2="334.1" y2="472.23" stroke="#cfcfcf" stroke-width="0.9"/>
<line x1="110.5" y1="452.66" x2="334.1" y2="452.66" stroke="#cfcfcf" stroke-width="0.9"/>
<line x1="110.5" y1="433.1" x2="334.1" y2="433.1" stroke="#cfcfcf" stroke-width="0.9"/>
<clipPath id="cp3"><rect x="110.5" y="421.5" width="223.6" height="168.1"/></clipPath>
<g clip-path="url(#cp3)">
<path d="M111.2,426.6 C111.73,427.57 112.14,428.51 112.8,429.5 C113.58,430.67 114.56,432 115.7,433.1 C116.93,434.28 118.4,435.24 120,436.3 C121.87,437.54 123.89,438.74 126.3,440 C129.36,441.6 133.42,443.34 137,444.9 C140.55,446.44 144.16,447.9 147.7,449.3 C151.16,450.66 154.5,451.93 158,453.2 C161.6,454.5 165.7,455.89 169,457 C171.68,457.9 173.87,458.6 176.3,459.4" fill="none" stroke="#000" stroke-width="5" stroke-linecap="round"/>
<line x1="179.08" y1="460.89" x2="322.6" y2="512.3" stroke="#e3141c" stroke-width="3.6" stroke-dasharray="6,7.65"/>
</g>
<rect x="110.5" y="421.5" width="223.6" height="168.1" fill="none" stroke="#000" stroke-width="1.75"/>
<line x1="110.2" y1="589.6" x2="110.2" y2="593.2" stroke="#000" stroke-width="1.2"/>
<line x1="110.2" y1="421.5" x2="110.2" y2="425.1" stroke="#000" stroke-width="1.2"/>
<line x1="130.19" y1="589.6" x2="130.19" y2="591.9" stroke="#000" stroke-width="1.2"/>
<line x1="130.19" y1="421.5" x2="130.19" y2="423.8" stroke="#000" stroke-width="1.2"/>
<line x1="150.18" y1="589.6" x2="150.18" y2="593.2" stroke="#000" stroke-width="1.2"/>
<line x1="150.18" y1="421.5" x2="150.18" y2="425.1" stroke="#000" stroke-width="1.2"/>
<line x1="170.17" y1="589.6" x2="170.17" y2="591.9" stroke="#000" stroke-width="1.2"/>
<line x1="170.17" y1="421.5" x2="170.17" y2="423.8" stroke="#000" stroke-width="1.2"/>
<line x1="190.16" y1="589.6" x2="190.16" y2="593.2" stroke="#000" stroke-width="1.2"/>
<line x1="190.16" y1="421.5" x2="190.16" y2="425.1" stroke="#000" stroke-width="1.2"/>
<line x1="210.15" y1="589.6" x2="210.15" y2="591.9" stroke="#000" stroke-width="1.2"/>
<line x1="210.15" y1="421.5" x2="210.15" y2="423.8" stroke="#000" stroke-width="1.2"/>
<line x1="230.14" y1="589.6" x2="230.14" y2="593.2" stroke="#000" stroke-width="1.2"/>
<line x1="230.14" y1="421.5" x2="230.14" y2="425.1" stroke="#000" stroke-width="1.2"/>
<line x1="250.13" y1="589.6" x2="250.13" y2="591.9" stroke="#000" stroke-width="1.2"/>
<line x1="250.13" y1="421.5" x2="250.13" y2="423.8" stroke="#000" stroke-width="1.2"/>
<line x1="270.12" y1="589.6" x2="270.12" y2="593.2" stroke="#000" stroke-width="1.2"/>
<line x1="270.12" y1="421.5" x2="270.12" y2="425.1" stroke="#000" stroke-width="1.2"/>
<line x1="290.11" y1="589.6" x2="290.11" y2="591.9" stroke="#000" stroke-width="1.2"/>
<line x1="290.11" y1="421.5" x2="290.11" y2="423.8" stroke="#000" stroke-width="1.2"/>
<line x1="310.1" y1="589.6" x2="310.1" y2="593.2" stroke="#000" stroke-width="1.2"/>
<line x1="310.1" y1="421.5" x2="310.1" y2="425.1" stroke="#000" stroke-width="1.2"/>
<line x1="330.09" y1="589.6" x2="330.09" y2="591.9" stroke="#000" stroke-width="1.2"/>
<line x1="330.09" y1="421.5" x2="330.09" y2="423.8" stroke="#000" stroke-width="1.2"/>
<line x1="106.9" y1="589.6" x2="110.5" y2="589.6" stroke="#000" stroke-width="1.2"/>
<line x1="330.5" y1="589.6" x2="334.1" y2="589.6" stroke="#000" stroke-width="1.2"/>
<line x1="108.2" y1="579.82" x2="110.5" y2="579.82" stroke="#000" stroke-width="1.2"/>
<line x1="331.8" y1="579.82" x2="334.1" y2="579.82" stroke="#000" stroke-width="1.2"/>
<line x1="106.9" y1="570.04" x2="110.5" y2="570.04" stroke="#000" stroke-width="1.2"/>
<line x1="330.5" y1="570.04" x2="334.1" y2="570.04" stroke="#000" stroke-width="1.2"/>
<line x1="108.2" y1="560.26" x2="110.5" y2="560.26" stroke="#000" stroke-width="1.2"/>
<line x1="331.8" y1="560.26" x2="334.1" y2="560.26" stroke="#000" stroke-width="1.2"/>
<line x1="106.9" y1="550.48" x2="110.5" y2="550.48" stroke="#000" stroke-width="1.2"/>
<line x1="330.5" y1="550.48" x2="334.1" y2="550.48" stroke="#000" stroke-width="1.2"/>
<line x1="108.2" y1="540.69" x2="110.5" y2="540.69" stroke="#000" stroke-width="1.2"/>
<line x1="331.8" y1="540.69" x2="334.1" y2="540.69" stroke="#000" stroke-width="1.2"/>
<line x1="106.9" y1="530.91" x2="110.5" y2="530.91" stroke="#000" stroke-width="1.2"/>
<line x1="330.5" y1="530.91" x2="334.1" y2="530.91" stroke="#000" stroke-width="1.2"/>
<line x1="108.2" y1="521.13" x2="110.5" y2="521.13" stroke="#000" stroke-width="1.2"/>
<line x1="331.8" y1="521.13" x2="334.1" y2="521.13" stroke="#000" stroke-width="1.2"/>
<line x1="106.9" y1="511.35" x2="110.5" y2="511.35" stroke="#000" stroke-width="1.2"/>
<line x1="330.5" y1="511.35" x2="334.1" y2="511.35" stroke="#000" stroke-width="1.2"/>
<line x1="108.2" y1="501.57" x2="110.5" y2="501.57" stroke="#000" stroke-width="1.2"/>
<line x1="331.8" y1="501.57" x2="334.1" y2="501.57" stroke="#000" stroke-width="1.2"/>
<line x1="106.9" y1="491.79" x2="110.5" y2="491.79" stroke="#000" stroke-width="1.2"/>
<line x1="330.5" y1="491.79" x2="334.1" y2="491.79" stroke="#000" stroke-width="1.2"/>
<line x1="108.2" y1="482.01" x2="110.5" y2="482.01" stroke="#000" stroke-width="1.2"/>
<line x1="331.8" y1="482.01" x2="334.1" y2="482.01" stroke="#000" stroke-width="1.2"/>
<line x1="106.9" y1="472.23" x2="110.5" y2="472.23" stroke="#000" stroke-width="1.2"/>
<line x1="330.5" y1="472.23" x2="334.1" y2="472.23" stroke="#000" stroke-width="1.2"/>
<line x1="108.2" y1="462.44" x2="110.5" y2="462.44" stroke="#000" stroke-width="1.2"/>
<line x1="331.8" y1="462.44" x2="334.1" y2="462.44" stroke="#000" stroke-width="1.2"/>
<line x1="106.9" y1="452.66" x2="110.5" y2="452.66" stroke="#000" stroke-width="1.2"/>
<line x1="330.5" y1="452.66" x2="334.1" y2="452.66" stroke="#000" stroke-width="1.2"/>
<line x1="108.2" y1="442.88" x2="110.5" y2="442.88" stroke="#000" stroke-width="1.2"/>
<line x1="331.8" y1="442.88" x2="334.1" y2="442.88" stroke="#000" stroke-width="1.2"/>
<line x1="106.9" y1="433.1" x2="110.5" y2="433.1" stroke="#000" stroke-width="1.2"/>
<line x1="330.5" y1="433.1" x2="334.1" y2="433.1" stroke="#000" stroke-width="1.2"/>
<line x1="108.2" y1="423.32" x2="110.5" y2="423.32" stroke="#000" stroke-width="1.2"/>
<line x1="331.8" y1="423.32" x2="334.1" y2="423.32" stroke="#000" stroke-width="1.2"/>
<text x="110.2" y="600.7" font-size="7.3" text-anchor="middle" fill="#1a1a1a" stroke="#1a1a1a" stroke-width="0.22" textLength="3.8" lengthAdjust="spacingAndGlyphs">0</text>
<text x="150.18" y="600.7" font-size="7.3" text-anchor="middle" fill="#1a1a1a" stroke="#1a1a1a" stroke-width="0.22" textLength="11.4" lengthAdjust="spacingAndGlyphs">500</text>
<text x="190.16" y="600.7" font-size="7.3" text-anchor="middle" fill="#1a1a1a" stroke="#1a1a1a" stroke-width="0.22" textLength="15.2" lengthAdjust="spacingAndGlyphs">1000</text>
<text x="230.14" y="600.7" font-size="7.3" text-anchor="middle" fill="#1a1a1a" stroke="#1a1a1a" stroke-width="0.22" textLength="15.2" lengthAdjust="spacingAndGlyphs">1500</text>
<text x="270.12" y="600.7" font-size="7.3" text-anchor="middle" fill="#1a1a1a" stroke="#1a1a1a" stroke-width="0.22" textLength="15.2" lengthAdjust="spacingAndGlyphs">2000</text>
<text x="310.1" y="600.7" font-size="7.3" text-anchor="middle" fill="#1a1a1a" stroke="#1a1a1a" stroke-width="0.22" textLength="15.2" lengthAdjust="spacingAndGlyphs">2500</text>
<text x="104.8" y="591.7" font-size="7.5" text-anchor="end" fill="#1a1a1a" stroke="#1a1a1a" stroke-width="0.22" textLength="13.3" lengthAdjust="spacingAndGlyphs">60%</text>
<text x="104.8" y="572.14" font-size="7.5" text-anchor="end" fill="#1a1a1a" stroke="#1a1a1a" stroke-width="0.22" textLength="13.3" lengthAdjust="spacingAndGlyphs">65%</text>
<text x="104.8" y="552.58" font-size="7.5" text-anchor="end" fill="#1a1a1a" stroke="#1a1a1a" stroke-width="0.22" textLength="13.3" lengthAdjust="spacingAndGlyphs">70%</text>
<text x="104.8" y="533.01" font-size="7.5" text-anchor="end" fill="#1a1a1a" stroke="#1a1a1a" stroke-width="0.22" textLength="13.3" lengthAdjust="spacingAndGlyphs">75%</text>
<text x="104.8" y="513.45" font-size="7.5" text-anchor="end" fill="#1a1a1a" stroke="#1a1a1a" stroke-width="0.22" textLength="13.3" lengthAdjust="spacingAndGlyphs">80%</text>
<text x="104.8" y="493.89" font-size="7.5" text-anchor="end" fill="#1a1a1a" stroke="#1a1a1a" stroke-width="0.22" textLength="13.3" lengthAdjust="spacingAndGlyphs">85%</text>
<text x="104.8" y="474.33" font-size="7.5" text-anchor="end" fill="#1a1a1a" stroke="#1a1a1a" stroke-width="0.22" textLength="13.3" lengthAdjust="spacingAndGlyphs">90%</text>
<text x="104.8" y="454.76" font-size="7.5" text-anchor="end" fill="#1a1a1a" stroke="#1a1a1a" stroke-width="0.22" textLength="13.3" lengthAdjust="spacingAndGlyphs">95%</text>
<text x="104.8" y="435.2" font-size="7.5" text-anchor="end" fill="#1a1a1a" stroke="#1a1a1a" stroke-width="0.22" textLength="16.8" lengthAdjust="spacingAndGlyphs">100%</text>
<text x="225.9" y="611.7" font-size="8.4" text-anchor="middle" fill="#1a1a1a" stroke="#1a1a1a" stroke-width="0.22" textLength="26.2" lengthAdjust="spacingAndGlyphs">Cycles</text>
<text x="0" y="0" font-size="9.2" text-anchor="middle" fill="#1a1a1a" stroke="#1a1a1a" stroke-width="0.22" textLength="82.5" lengthAdjust="spacingAndGlyphs" transform="translate(88.3,510.5) rotate(-90)">Capacity Retention/%</text>
<text x="232.3" y="417.9" font-size="8.2" text-anchor="middle" fill="#1a1a1a" stroke="#1a1a1a" stroke-width="0.22" textLength="165" lengthAdjust="spacingAndGlyphs">LF280&#160; Cycle Life@25℃ 1C/1C 3.65V-2.5V</text>
<line x1="441.3" y1="422.7" x2="441.3" y2="589.9" stroke="#f0f0f0" stroke-width="0.8" stroke-dasharray="1,1"/>
<line x1="466.11" y1="422.7" x2="466.11" y2="589.9" stroke="#f0f0f0" stroke-width="0.8" stroke-dasharray="1,1"/>
<line x1="490.92" y1="422.7" x2="490.92" y2="589.9" stroke="#f0f0f0" stroke-width="0.8" stroke-dasharray="1,1"/>
<line x1="515.74" y1="422.7" x2="515.74" y2="589.9" stroke="#f0f0f0" stroke-width="0.8" stroke-dasharray="1,1"/>
<line x1="540.54" y1="422.7" x2="540.54" y2="589.9" stroke="#f0f0f0" stroke-width="0.8" stroke-dasharray="1,1"/>
<line x1="565.36" y1="422.7" x2="565.36" y2="589.9" stroke="#f0f0f0" stroke-width="0.8" stroke-dasharray="1,1"/>
<line x1="590.16" y1="422.7" x2="590.16" y2="589.9" stroke="#f0f0f0" stroke-width="0.8" stroke-dasharray="1,1"/>
<line x1="614.97" y1="422.7" x2="614.97" y2="589.9" stroke="#f0f0f0" stroke-width="0.8" stroke-dasharray="1,1"/>
<line x1="639.78" y1="422.7" x2="639.78" y2="589.9" stroke="#f0f0f0" stroke-width="0.8" stroke-dasharray="1,1"/>
<line x1="428.9" y1="570.85" x2="652.2" y2="570.85" stroke="#f0f0f0" stroke-width="0.8" stroke-dasharray="1,1"/>
<line x1="428.9" y1="532.75" x2="652.2" y2="532.75" stroke="#f0f0f0" stroke-width="0.8" stroke-dasharray="1,1"/>
<line x1="428.9" y1="494.65" x2="652.2" y2="494.65" stroke="#f0f0f0" stroke-width="0.8" stroke-dasharray="1,1"/>
<line x1="428.9" y1="456.55" x2="652.2" y2="456.55" stroke="#f0f0f0" stroke-width="0.8" stroke-dasharray="1,1"/>
<line x1="453.71" y1="422.7" x2="453.71" y2="589.9" stroke="#cfcfcf" stroke-width="0.9"/>
<line x1="478.52" y1="422.7" x2="478.52" y2="589.9" stroke="#cfcfcf" stroke-width="0.9"/>
<line x1="503.33" y1="422.7" x2="503.33" y2="589.9" stroke="#cfcfcf" stroke-width="0.9"/>
<line x1="528.14" y1="422.7" x2="528.14" y2="589.9" stroke="#cfcfcf" stroke-width="0.9"/>
<line x1="552.95" y1="422.7" x2="552.95" y2="589.9" stroke="#cfcfcf" stroke-width="0.9"/>
<line x1="577.76" y1="422.7" x2="577.76" y2="589.9" stroke="#cfcfcf" stroke-width="0.9"/>
<line x1="602.57" y1="422.7" x2="602.57" y2="589.9" stroke="#cfcfcf" stroke-width="0.9"/>
<line x1="627.38" y1="422.7" x2="627.38" y2="589.9" stroke="#cfcfcf" stroke-width="0.9"/>
<line x1="428.9" y1="551.8" x2="652.2" y2="551.8" stroke="#cfcfcf" stroke-width="0.9"/>
<line x1="428.9" y1="513.7" x2="652.2" y2="513.7" stroke="#cfcfcf" stroke-width="0.9"/>
<line x1="428.9" y1="475.6" x2="652.2" y2="475.6" stroke="#cfcfcf" stroke-width="0.9"/>
<line x1="428.9" y1="437.5" x2="652.2" y2="437.5" stroke="#cfcfcf" stroke-width="0.9"/>
<path d="M463.9,499.8 C464.3,500.07 464.62,500.21 465.1,500.6 C466,501.33 467.53,502.96 468.7,504.1 C469.82,505.19 470.83,506.33 472,507.3 C473.16,508.26 474.47,509.06 475.7,509.9 C476.9,510.72 478.12,511.42 479.3,512.3 C480.52,513.21 481.66,514.36 482.9,515.3 C484.13,516.23 485.4,517.03 486.7,517.9 C488.06,518.8 489.45,519.67 490.9,520.6 C492.45,521.6 494.15,522.66 495.7,523.7 C497.18,524.7 498.49,525.7 500,526.7 C501.62,527.77 503.5,528.81 505.1,529.9 C506.59,530.91 507.8,532.2 509.3,533 C510.77,533.79 512.49,533.84 514,534.7 C515.7,535.66 517.02,537.46 518.9,538.7 C521.07,540.13 523.88,541.33 526.4,542.6 C528.92,543.87 531.69,545.21 534,546.3 C535.92,547.2 537.65,547.77 539.3,548.7 C540.88,549.59 542.19,550.8 543.7,551.7 C545.19,552.59 546.64,553.26 548.3,554.1 C550.23,555.08 552.46,556.09 554.6,557.2 C556.88,558.38 559.45,560.02 561.6,561 C563.32,561.79 564.77,562.15 566.4,562.8 C568.11,563.48 569.81,564.2 571.6,565 C573.54,565.86 575.79,567.02 577.6,567.8 C579.06,568.43 580.1,568.77 581.6,569.4 C583.57,570.23 586.37,571.42 588.4,572.4 C590.1,573.22 591.16,573.96 593,574.8 C595.59,575.99 599.72,577.23 602.6,578.6 C605.11,579.79 607.24,581.54 609.4,582.4 C611.17,583.11 612.95,583.19 614.5,583.7 C615.85,584.14 616.87,584.69 618.2,585.2 C619.74,585.79 621.54,586.44 623.2,587 C624.81,587.54 626.4,588 628,588.5" fill="none" stroke="#e3141c" stroke-width="0.7" opacity="0.6"/>
<path d="M442.3,476.3 C443.37,477.8 444.39,479.18 445.5,480.8 C446.77,482.65 447.91,484.79 449.5,486.8 C451.33,489.12 453.63,491.67 456,493.8 C458.39,495.94 461.2,497.67 463.8,499.6" fill="none" stroke="#000" stroke-width="5.6" stroke-linecap="butt"/>
<polygon points="429.6,434.3 432,440 434.6,448.5 437.2,454 439.3,459.3 441,464.5 442.4,469.6 444.3,472.8 447,476.5 443,481 439,476.5 437.4,473.4 433.6,463 431,456 429.3,452 429.3,434.3" fill="#000" stroke="#000" stroke-width="0.4"/>
<circle cx="463.4" cy="499.7" r="2.8" fill="#000"/>
<circle cx="465.1" cy="500.6" r="2.05" fill="#d61c20"/>
<circle cx="468.7" cy="504.1" r="2.05" fill="#d61c20"/>
<circle cx="472" cy="507.3" r="2.05" fill="#d61c20"/>
<circle cx="475.7" cy="509.9" r="2.05" fill="#d61c20"/>
<circle cx="479.3" cy="512.3" r="2.05" fill="#d61c20"/>
<circle cx="482.9" cy="515.3" r="2.05" fill="#d61c20"/>
<circle cx="486.7" cy="517.9" r="2.05" fill="#d61c20"/>
<circle cx="490.9" cy="520.6" r="2.05" fill="#d61c20"/>
<circle cx="495.7" cy="523.7" r="2.05" fill="#d61c20"/>
<circle cx="500" cy="526.7" r="2.05" fill="#d61c20"/>
<circle cx="505.1" cy="529.9" r="2.05" fill="#d61c20"/>
<circle cx="509.3" cy="533" r="2.05" fill="#d61c20"/>
<circle cx="514" cy="534.7" r="2.05" fill="#d61c20"/>
<circle cx="518.9" cy="538.7" r="2.05" fill="#d61c20"/>
<circle cx="526.4" cy="542.6" r="2.05" fill="#d61c20"/>
<circle cx="534" cy="546.3" r="2.05" fill="#d61c20"/>
<circle cx="539.3" cy="548.7" r="2.05" fill="#d61c20"/>
<circle cx="543.7" cy="551.7" r="2.05" fill="#d61c20"/>
<circle cx="548.3" cy="554.1" r="2.05" fill="#d61c20"/>
<circle cx="554.6" cy="557.2" r="2.05" fill="#d61c20"/>
<circle cx="561.6" cy="561" r="2.05" fill="#d61c20"/>
<circle cx="566.4" cy="562.8" r="2.05" fill="#d61c20"/>
<circle cx="571.6" cy="565" r="2.05" fill="#d61c20"/>
<circle cx="577.6" cy="567.8" r="2.05" fill="#d61c20"/>
<circle cx="581.6" cy="569.4" r="2.05" fill="#d61c20"/>
<circle cx="588.4" cy="572.4" r="2.05" fill="#d61c20"/>
<circle cx="593" cy="574.8" r="2.05" fill="#d61c20"/>
<circle cx="602.6" cy="578.6" r="2.05" fill="#d61c20"/>
<circle cx="609.4" cy="582.4" r="2.05" fill="#d61c20"/>
<circle cx="614.5" cy="583.7" r="2.05" fill="#d61c20"/>
<circle cx="618.2" cy="585.2" r="2.05" fill="#d61c20"/>
<circle cx="623.2" cy="587" r="2.05" fill="#d61c20"/>
<circle cx="628" cy="588.5" r="2.05" fill="#d61c20"/>
<rect x="428.9" y="422.7" width="223.3" height="167.2" fill="none" stroke="#000" stroke-width="1.7"/>
<line x1="428.9" y1="589.9" x2="428.9" y2="593.5" stroke="#000" stroke-width="1.2"/>
<line x1="441.3" y1="589.9" x2="441.3" y2="592.2" stroke="#000" stroke-width="1.2"/>
<line x1="453.71" y1="589.9" x2="453.71" y2="593.5" stroke="#000" stroke-width="1.2"/>
<line x1="466.11" y1="589.9" x2="466.11" y2="592.2" stroke="#000" stroke-width="1.2"/>
<line x1="478.52" y1="589.9" x2="478.52" y2="593.5" stroke="#000" stroke-width="1.2"/>
<line x1="490.92" y1="589.9" x2="490.92" y2="592.2" stroke="#000" stroke-width="1.2"/>
<line x1="503.33" y1="589.9" x2="503.33" y2="593.5" stroke="#000" stroke-width="1.2"/>
<line x1="515.74" y1="589.9" x2="515.74" y2="592.2" stroke="#000" stroke-width="1.2"/>
<line x1="528.14" y1="589.9" x2="528.14" y2="593.5" stroke="#000" stroke-width="1.2"/>
<line x1="540.54" y1="589.9" x2="540.54" y2="592.2" stroke="#000" stroke-width="1.2"/>
<line x1="552.95" y1="589.9" x2="552.95" y2="593.5" stroke="#000" stroke-width="1.2"/>
<line x1="565.36" y1="589.9" x2="565.36" y2="592.2" stroke="#000" stroke-width="1.2"/>
<line x1="577.76" y1="589.9" x2="577.76" y2="593.5" stroke="#000" stroke-width="1.2"/>
<line x1="590.16" y1="589.9" x2="590.16" y2="592.2" stroke="#000" stroke-width="1.2"/>
<line x1="602.57" y1="589.9" x2="602.57" y2="593.5" stroke="#000" stroke-width="1.2"/>
<line x1="614.97" y1="589.9" x2="614.97" y2="592.2" stroke="#000" stroke-width="1.2"/>
<line x1="627.38" y1="589.9" x2="627.38" y2="593.5" stroke="#000" stroke-width="1.2"/>
<line x1="639.78" y1="589.9" x2="639.78" y2="592.2" stroke="#000" stroke-width="1.2"/>
<line x1="652.19" y1="589.9" x2="652.19" y2="593.5" stroke="#000" stroke-width="1.2"/>
<line x1="425.3" y1="589.9" x2="428.9" y2="589.9" stroke="#000" stroke-width="1.2"/>
<line x1="426.6" y1="570.85" x2="428.9" y2="570.85" stroke="#000" stroke-width="1.2"/>
<line x1="425.3" y1="551.8" x2="428.9" y2="551.8" stroke="#000" stroke-width="1.2"/>
<line x1="426.6" y1="532.75" x2="428.9" y2="532.75" stroke="#000" stroke-width="1.2"/>
<line x1="425.3" y1="513.7" x2="428.9" y2="513.7" stroke="#000" stroke-width="1.2"/>
<line x1="426.6" y1="494.65" x2="428.9" y2="494.65" stroke="#000" stroke-width="1.2"/>
<line x1="425.3" y1="475.6" x2="428.9" y2="475.6" stroke="#000" stroke-width="1.2"/>
<line x1="426.6" y1="456.55" x2="428.9" y2="456.55" stroke="#000" stroke-width="1.2"/>
<line x1="425.3" y1="437.5" x2="428.9" y2="437.5" stroke="#000" stroke-width="1.2"/>
<text x="428.9" y="600.8" font-size="7.2" text-anchor="middle" fill="#1a1a1a" stroke="#1a1a1a" stroke-width="0.22" textLength="3.45" lengthAdjust="spacingAndGlyphs">0</text>
<text x="453.71" y="600.8" font-size="7.2" text-anchor="middle" fill="#1a1a1a" stroke="#1a1a1a" stroke-width="0.22" textLength="10.35" lengthAdjust="spacingAndGlyphs">500</text>
<text x="478.52" y="600.8" font-size="7.2" text-anchor="middle" fill="#1a1a1a" stroke="#1a1a1a" stroke-width="0.22" textLength="13.8" lengthAdjust="spacingAndGlyphs">1000</text>
<text x="503.33" y="600.8" font-size="7.2" text-anchor="middle" fill="#1a1a1a" stroke="#1a1a1a" stroke-width="0.22" textLength="13.8" lengthAdjust="spacingAndGlyphs">1500</text>
<text x="528.14" y="600.8" font-size="7.2" text-anchor="middle" fill="#1a1a1a" stroke="#1a1a1a" stroke-width="0.22" textLength="13.8" lengthAdjust="spacingAndGlyphs">2000</text>
<text x="552.95" y="600.8" font-size="7.2" text-anchor="middle" fill="#1a1a1a" stroke="#1a1a1a" stroke-width="0.22" textLength="13.8" lengthAdjust="spacingAndGlyphs">2500</text>
<text x="577.76" y="600.8" font-size="7.2" text-anchor="middle" fill="#1a1a1a" stroke="#1a1a1a" stroke-width="0.22" textLength="13.8" lengthAdjust="spacingAndGlyphs">3000</text>
<text x="602.57" y="600.8" font-size="7.2" text-anchor="middle" fill="#1a1a1a" stroke="#1a1a1a" stroke-width="0.22" textLength="13.8" lengthAdjust="spacingAndGlyphs">3500</text>
<text x="627.38" y="600.8" font-size="7.2" text-anchor="middle" fill="#1a1a1a" stroke="#1a1a1a" stroke-width="0.22" textLength="13.8" lengthAdjust="spacingAndGlyphs">4000</text>
<text x="652.19" y="600.8" font-size="7.2" text-anchor="middle" fill="#1a1a1a" stroke="#1a1a1a" stroke-width="0.22" textLength="13.8" lengthAdjust="spacingAndGlyphs">4500</text>
<text x="424.2" y="592.4" font-size="7.2" text-anchor="end" fill="#1a1a1a" stroke="#1a1a1a" stroke-width="0.22">80</text>
<text x="424.2" y="554.3" font-size="7.2" text-anchor="end" fill="#1a1a1a" stroke="#1a1a1a" stroke-width="0.22">85</text>
<text x="424.2" y="516.2" font-size="7.2" text-anchor="end" fill="#1a1a1a" stroke="#1a1a1a" stroke-width="0.22">90</text>
<text x="424.2" y="478.1" font-size="7.2" text-anchor="end" fill="#1a1a1a" stroke="#1a1a1a" stroke-width="0.22">95</text>
<text x="424.2" y="440" font-size="7.2" text-anchor="end" fill="#1a1a1a" stroke="#1a1a1a" stroke-width="0.22">100</text>
<text x="540.1" y="614.8" font-size="8.2" text-anchor="middle" fill="#1a1a1a" stroke="#1a1a1a" stroke-width="0.22" textLength="57" lengthAdjust="spacingAndGlyphs">Cycle Number</text>
<text x="0" y="0" font-size="9.6" text-anchor="middle" fill="#1a1a1a" stroke="#1a1a1a" stroke-width="0.22" textLength="87.5" lengthAdjust="spacingAndGlyphs" transform="translate(405.4,513.2) rotate(-90)">Capacity Retention/%</text>
<text x="545" y="418.5" font-size="8.2" text-anchor="middle" fill="#1a1a1a" stroke="#1a1a1a" stroke-width="0.22" textLength="176" lengthAdjust="spacingAndGlyphs">LF280N 25°CFixture Cycle 1C/1C 3.65V-2.5V</text>
<circle cx="41.3" cy="620.8" r="0.7" fill="#aaa"/>
<rect x="75" y="616" width="85" height="5" fill="#f9f9f9"/>
</svg>
</body></html>
